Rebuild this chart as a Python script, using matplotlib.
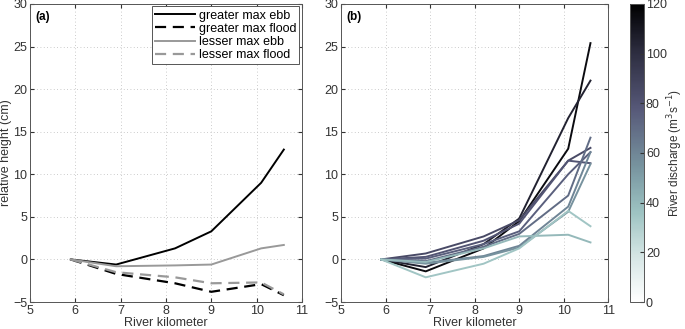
import matplotlib
matplotlib.use('Agg')
import matplotlib.pyplot as plt
from matplotlib.colors import LinearSegmentedColormap, Normalize
from matplotlib.cm import ScalarMappable

plt.rcParams['font.family'] = ['Liberation Sans', 'DejaVu Sans']
plt.rcParams['font.size'] = 9

# river kilometer stations
rkm = [5.9, 6.9, 8.2, 9.0, 10.1, 10.6]

# panel (a)
greater_ebb = [0, -0.6, 1.3, 3.3, 9.0, 12.9]
greater_flood = [0, -1.7, -2.8, -3.8, -2.9, -4.2]
lesser_ebb = [0, -0.8, -0.7, -0.6, 1.3, 1.7]
lesser_flood = [0, -1.5, -2.1, -2.8, -2.7, -4.1]

# panel (b): discharge (m3/s) and relative height per discharge
discharge = [115, 105, 85, 80, 75, 70, 60, 55, 40, 35]
heights = [
    [0, -1.4, 1.3, 4.5, 13.0, 25.4],
    [0, -0.9, 1.8, 4.8, 16.6, 21.0],
    [0, 0.7, 2.7, 4.6, 11.6, 13.1],
    [0, 0.3, 2.2, 4.2, 11.6, 11.3],
    [0, 0.1, 1.8, 3.3, 10.0, 12.6],
    [0, -0.2, 1.5, 3.0, 7.5, 14.3],
    [0, -0.4, 0.4, 1.6, 6.2, 12.6],
    [0, -0.5, 0.3, 1.4, 5.6, 11.2],
    [0, -0.3, 1.3, 2.7, 2.9, 2.0],
    [0, -2.1, -0.5, 1.3, 5.7, 3.9],
]

cmap = LinearSegmentedColormap.from_list('discharge', [
    (0.0, '#ffffff'), (0.15, '#d6e6e5'), (0.3, '#9dc3c2'), (0.45, '#7895a0'),
    (0.65, '#565878'), (0.85, '#2a2a3c'), (1.0, '#000000')])
norm = Normalize(0, 120)

fig = plt.figure(figsize=(6.85, 3.29), dpi=100)
ax1 = fig.add_axes([0.0438, 0.082, 0.397, 0.906])
ax2 = fig.add_axes([0.498, 0.082, 0.390, 0.906])
cax = fig.add_axes([0.920, 0.082, 0.020, 0.906])

ax1.plot(rkm, greater_ebb, color='black', lw=1.4, label='greater max ebb')
ax1.plot(rkm, greater_flood, color='black', lw=1.6, ls=(0, (5, 3)), label='greater max flood')
ax1.plot(rkm, lesser_ebb, color='#999999', lw=1.4, label='lesser max ebb')
ax1.plot(rkm, lesser_flood, color='#999999', lw=1.6, ls=(0, (5, 3)), label='lesser max flood')
leg = ax1.legend(loc='upper right', fontsize=9, fancybox=False, framealpha=1,
                 edgecolor='#555555', borderaxespad=0.2, handlelength=3.2,
                 labelspacing=0.1, handletextpad=0.3, borderpad=0.25)
leg.get_frame().set_linewidth(0.7)

for q, h in zip(discharge, heights):
    ax2.plot(rkm, h, color=cmap(norm(q)), lw=1.4)

for ax, tag in [(ax1, '(a)'), (ax2, '(b)')]:
    ax.set_xlim(5, 11)
    ax.set_ylim(-5, 30)
    ax.set_xticks(range(5, 12))
    ax.set_yticks(range(-5, 31, 5))
    ax.grid(True, ls=(0, (1, 3)), color='#bbbbbb', lw=0.6)
    ax.tick_params(direction='in', top=True, right=True, length=3,
                   colors='#333333', labelsize=9, pad=2)
    for s in ax.spines.values():
        s.set_color('#555555')
        s.set_linewidth(0.7)
    ax.text(0.02, 0.975, tag, transform=ax.transAxes, fontweight='bold',
            fontsize=8.5, va='top', ha='left')
    ax.set_xlabel('River kilometer', color='#333333', labelpad=0)

ax1.set_ylabel('relative height (cm)', color='#333333', labelpad=1)

cb = fig.colorbar(ScalarMappable(norm=norm, cmap=cmap), cax=cax)
cb.set_ticks(range(0, 121, 20))
cb.ax.tick_params(direction='in', length=3, colors='#333333', labelsize=9, pad=1.5)
cb.outline.set_edgecolor('#555555')
cb.outline.set_linewidth(0.7)
fig.text(0.986, 0.535, 'River discharge (m$^3$s$^{-1}$)', color='#333333',
         fontsize=8.5, rotation=90, ha='center', va='center')

fig.savefig('out.png', dpi=100)
